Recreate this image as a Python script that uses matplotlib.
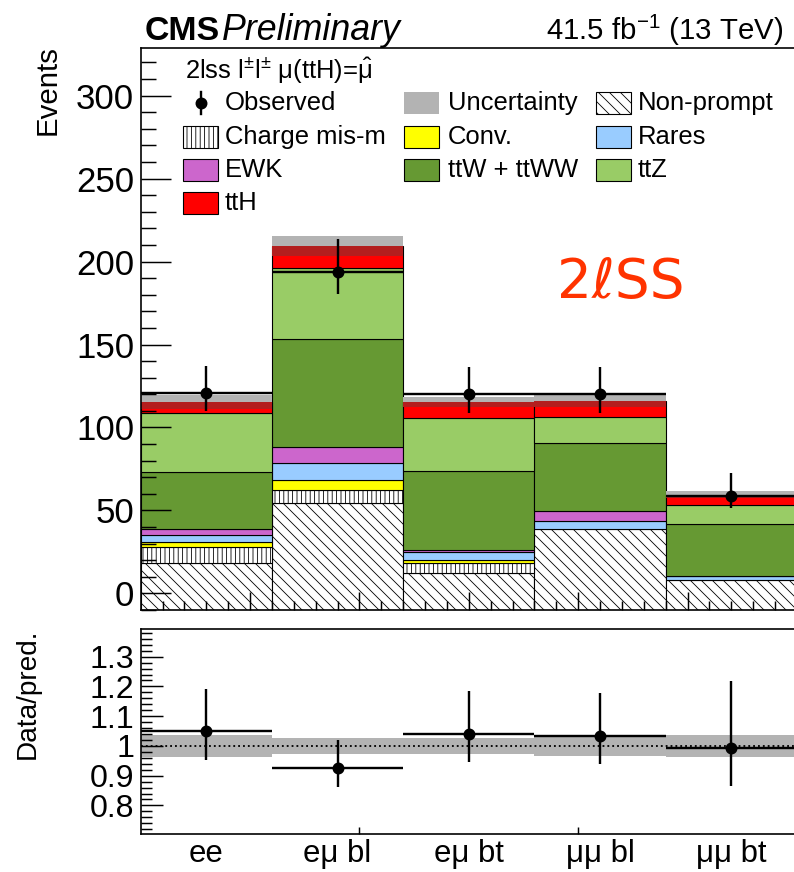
import matplotlib
matplotlib.use("Agg")
import matplotlib.pyplot as plt
from matplotlib.patches import Rectangle
from matplotlib.lines import Line2D
from matplotlib.ticker import MultipleLocator, FuncFormatter
import numpy as np

# Figure size in pixels
W, H, DPI = 794, 872, 132

# Data
categories = ["ee", "eμ bl", "eμ bt", "μμ bl", "μμ bt"]

nonprompt = [18.1, 54.6, 12.1, 38.6, 8.0]
charge_mis = [9.6, 7.5, 6.0, 0.0, 0.0]
conv = [3.4, 6.0, 2.0, 0.0, 0.0]
rares = [3.9, 10.3, 4.8, 5.0, 2.4]
ewk = [3.6, 9.6, 1.0, 6.0, 0.3]
ttw = [34.3, 65.1, 47.8, 40.8, 30.9]
ttz = [35.6, 42.8, 31.8, 16.1, 11.6]
tth = [6.8, 13.3, 9.8, 9.5, 6.3]
uncertainty = [4.2, 5.9, 3.2, 3.9, 2.2]

observed = [121, 194, 120, 120, 59]
obs_err_up = [16.3, 19.4, 16.6, 16.6, 13.4]
obs_err_down = [11.0, 13.7, 11.0, 11.0, 7.5]

plt.rcParams['font.family'] = ['Liberation Sans', 'DejaVu Sans']
plt.rcParams['mathtext.fontset'] = 'custom'
plt.rcParams['mathtext.rm'] = 'Liberation Sans'
plt.rcParams['mathtext.it'] = 'Liberation Sans:italic'
plt.rcParams['mathtext.bf'] = 'Liberation Sans:bold'
plt.rcParams['hatch.linewidth'] = 0.45
plt.rcParams['axes.linewidth'] = 0.9

NP_HATCH = '\\\\\\\\'
CM_HATCH = '|||||'


def fx(x):
    return x / W


def fy(y):
    return 1 - y / H


fig = plt.figure(figsize=(W / DPI, H / DPI), dpi=DPI)
ax = fig.add_axes([fx(140.7), fy(610), fx(797) - fx(140.7), fy(47.5) - fy(610)])
rax = fig.add_axes([fx(140.7), fy(834.3), fx(797) - fx(140.7), fy(629.3) - fy(834.3)])

x = np.arange(len(categories)) + 0.5
ymin, ymax = -10, 329

# stacked backgrounds, bottom to top
stack = [
    (nonprompt, 'white', NP_HATCH),
    (charge_mis, 'white', CM_HATCH),
    (conv, '#ffff00', None),
    (rares, '#99ccff', None),
    (ewk, '#cc66cc', None),
    (ttw, '#669933', None),
    (ttz, '#99cc66', None),
    (tth, '#ff0000', None),
]

bottom = np.zeros(len(x))
for i, (vals, color, hatch) in enumerate(stack):
    vals = np.array(vals, dtype=float)
    top = bottom + vals
    base = np.full(len(x), ymin) if i == 0 else bottom
    mask = vals > 0
    ax.bar(x[mask], (top - base)[mask], bottom=base[mask], width=1.0, color=color,
           edgecolor='black', linewidth=0.6, hatch=hatch)
    bottom = top

pred = bottom
unc = np.array(uncertainty)
# uncertainty band: grey above prediction, darkened red where it overlaps ttH
ax.bar(x, unc, bottom=pred, width=1.0, color='#b3b3b3', linewidth=0)
ax.bar(x, unc, bottom=pred - unc, width=1.0, color='#b31e1e', linewidth=0)

ax.errorbar(x, observed, xerr=0.5, yerr=[obs_err_down, obs_err_up], fmt='o',
            color='black', ms=5.5, lw=1.3, capsize=0, zorder=5)

ax.set_xlim(0, 5)
ax.set_ylim(ymin, ymax)
ax.yaxis.set_major_locator(MultipleLocator(50))
ax.yaxis.set_minor_locator(MultipleLocator(10))
ax.set_xticks(np.arange(1, 7) * 5 / 6)
ax.set_xticks(np.arange(1, 30) / 6, minor=True)
ax.tick_params(axis='y', which='major', direction='in', length=16.4, width=0.8,
               labelsize=19, pad=3.5)
ax.tick_params(axis='y', which='minor', direction='in', length=8.2, width=0.8)
ax.tick_params(axis='x', which='major', direction='in', length=9.8, width=0.8,
               labelbottom=False)
ax.tick_params(axis='x', which='minor', direction='in', length=4.9, width=0.8)

# ratio panel
obs = np.array(observed, dtype=float)
ratio = obs / pred
rel_unc = unc / pred
rax.bar(x, 2 * rel_unc, bottom=1 - rel_unc, width=1.0, color='#b3b3b3', linewidth=0)
rax.axhline(1, color='black', ls=':', lw=1.0)
rax.errorbar(x, ratio, xerr=0.5,
             yerr=[np.array(obs_err_down) / pred, np.array(obs_err_up) / pred],
             fmt='o', color='black', ms=5.5, lw=1.3, capsize=0, zorder=5)
rax.set_xlim(0, 5)
rax.set_ylim(0.703, 1.392)
rax.yaxis.set_major_locator(MultipleLocator(0.1))
rax.yaxis.set_minor_locator(MultipleLocator(0.02))
rax.yaxis.set_major_formatter(FuncFormatter(lambda v, p: '%g' % round(v, 2)))
rax.tick_params(axis='y', which='major', direction='in', length=12, width=0.8,
                labelsize=17.5, pad=3.5)
rax.tick_params(axis='y', which='minor', direction='in', length=6, width=0.8)
rax.set_xticks(x)
rax.set_xticklabels(categories)
rax.set_xticks([10 / 6, 20 / 6], minor=True)
rax.tick_params(axis='x', which='major', length=0, labelsize=17, pad=2.5)
rax.tick_params(axis='x', which='minor', direction='in', length=3.6, width=0.8)

# axis titles
fig.text(fx(48), fy(45), 'Events', rotation=90, ha='center', va='top', fontsize=16)
fig.text(fx(28), fy(629), 'Data/pred.', rotation=90, ha='center', va='top', fontsize=15.3)

# header
fig.text(fx(145), fy(40), 'CMS', fontsize=18.5, fontweight='bold', va='baseline')
fig.text(fx(222), fy(40), 'Preliminary', fontsize=19.5, fontstyle='italic', va='baseline')
fig.text(fx(783), fy(40), '41.5 fb$^{-1}$ (13 TeV)', fontsize=16, ha='right', va='baseline')

fig.text(fx(557), fy(298), '2ℓSS', fontsize=30, color='#ff3300', family=['DejaVu Sans'],
         va='baseline')

# legend
fig.text(fx(185), fy(70), '2lss l$^{\\pm}$l$^{\\pm}$ μ(ttH)=$\\hat{\\mathrm{\\mu}}$',
         fontsize=14, va='center')

col_box = [183, 404, 596]
col_txt = [225, 448, 638]
row_y = [103, 137, 170, 203]

entries = [
    (0, 0, 'Observed', None),
    (0, 1, 'Uncertainty', dict(facecolor='#b3b3b3', edgecolor='none')),
    (0, 2, 'Non-prompt', dict(facecolor='white', edgecolor='black', hatch=NP_HATCH)),
    (1, 0, 'Charge mis-m', dict(facecolor='white', edgecolor='black', hatch=CM_HATCH)),
    (1, 1, 'Conv.', dict(facecolor='#ffff00', edgecolor='black')),
    (1, 2, 'Rares', dict(facecolor='#99ccff', edgecolor='black')),
    (2, 0, 'EWK', dict(facecolor='#cc66cc', edgecolor='black')),
    (2, 1, 'ttW + ttWW', dict(facecolor='#669933', edgecolor='black')),
    (2, 2, 'ttZ', dict(facecolor='#99cc66', edgecolor='black')),
    (3, 0, 'ttH', dict(facecolor='#ff0000', edgecolor='black')),
]

for row, col, label, style in entries:
    yc = row_y[row]
    if style is None:
        xm = col_box[col] + 18
        fig.add_artist(Line2D([fx(xm), fx(xm)], [fy(yc - 11), fy(yc + 11)],
                              transform=fig.transFigure, color='black', lw=1.3))
        fig.add_artist(Line2D([fx(xm)], [fy(yc)], transform=fig.transFigure,
                              marker='o', ms=5.5, color='black'))
    else:
        fig.add_artist(Rectangle((fx(col_box[col]), fy(yc + 11)), 35 / W, 22 / H,
                                 transform=fig.transFigure, linewidth=0.6, **style))
    fig.text(fx(col_txt[col]), fy(yc), label, fontsize=14, va='center')

fig.savefig('out.png', dpi=DPI)
